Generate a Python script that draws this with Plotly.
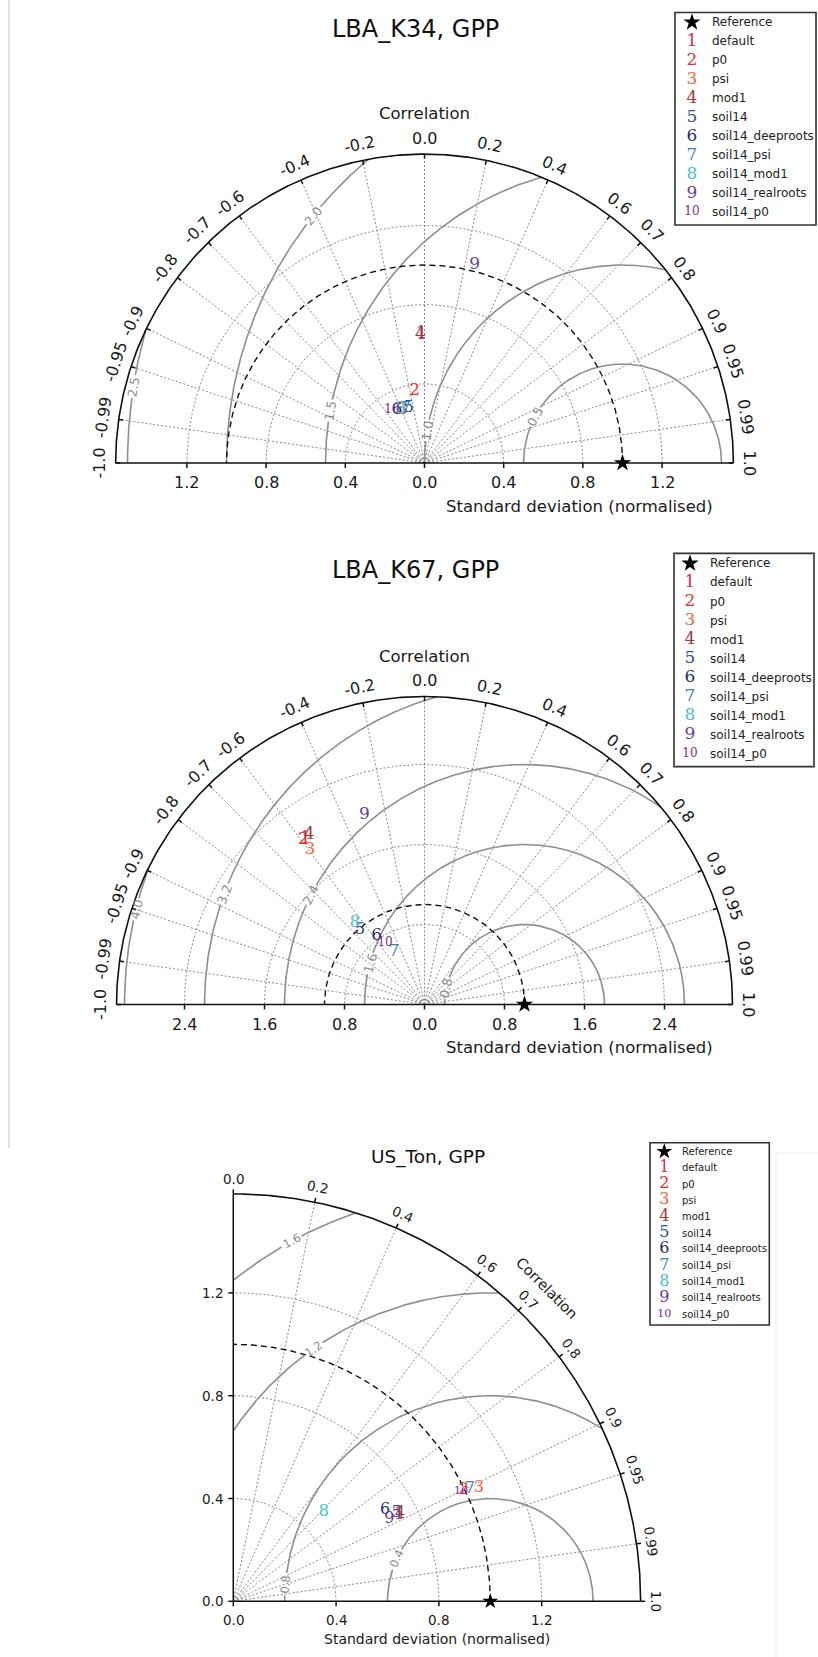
import numpy as np
import plotly.graph_objects as go

W, H = 818, 1657

# ---------------- data ----------------
model_names = ["default", "p0", "psi", "mod1", "soil14", "soil14_deeproots",
               "soil14_psi", "soil14_mod1", "soil14_realroots", "soil14_p0"]
model_marks = ["1", "2", "3", "4", "5", "6", "7", "8", "9", "10"]
model_colors = ["#d92e50", "#e5302e", "#ee6536", "#a0383d", "#2f4f9f", "#1f2b6b",
                "#3b82c4", "#4bbfcb", "#6a3f98", "#7b2e91"]

ref_std = 1.0

# LBA_K34 (normalised std, correlation)
k34_std = [0.655, 0.368, 0.291, 0.648, 0.289, 0.303, 0.289, 0.299, 1.032, 0.315]
k34_corr = [-0.023, -0.136, -0.378, -0.031, -0.277, -0.459, -0.332, -0.408, 0.246, -0.521]
# LBA_K67
k67_std = [2.043, 2.049, 1.929, 2.055, 0.991, 0.835, 0.607, 1.074, 1.993, 0.728]
k67_corr = [-0.583, -0.592, -0.594, -0.561, -0.651, -0.572, -0.502, -0.647, -0.301, -0.542]
# US_Ton
ton_std = [0.727, 0.994, 1.052, 0.732, 0.723, 0.689, 1.018, 0.494, 0.686, 0.984]
ton_corr = [0.888, 0.901, 0.908, 0.886, 0.879, 0.857, 0.904, 0.714, 0.885, 0.900]

corr_ticks_full = [-1.0, -0.99, -0.95, -0.9, -0.8, -0.7, -0.6, -0.4, -0.2, 0.0,
                   0.2, 0.4, 0.6, 0.7, 0.8, 0.9, 0.95, 0.99, 1.0]
corr_ticks_half = [0.0, 0.2, 0.4, 0.6, 0.7, 0.8, 0.9, 0.95, 0.99, 1.0]
k34_std_ticks = [-1.2, -0.8, -0.4, 0.0, 0.4, 0.8, 1.2]
k67_std_ticks = [-2.4, -1.6, -0.8, 0.0, 0.8, 1.6, 2.4]
ton_std_ticks = [0.0, 0.4, 0.8, 1.2]
k34_rms_levels = [0.5, 1.0, 1.5, 2.0, 2.5]
k67_rms_levels = [0.8, 1.6, 2.4, 3.2, 4.0]
ton_rms_levels = [0.4, 0.8, 1.2, 1.6]

# ---------------- layout parameters (pixels) ----------------
panels = [
    dict(title="LBA_K34, GPP", std=k34_std, corr=k34_corr, half=False,
         band=(0, 530), center=(424.5, 463.0), scale=198.0, smax=1.56,
         std_ticks=k34_std_ticks, rms=k34_rms_levels, rms_phi=[152, 170.5, 169.8, 141.3, 171.1],
         corr_ticks=corr_ticks_full, title_pos=(415, 28.5), title_size=24,
         corr_lab=(424.5, 114, 0), xlab=(579.5, 506), font=16, tick_off=16,
         legend_box=(675, 12.5, 816, 225), legend_y0=22.3, legend_dy=19.0,
         legend_sym_x=692, legend_txt_x=711, legend_font=12,
         mark=17, mark10=12, star=13, cfont=12.5),
    dict(title="LBA_K67, GPP", std=k67_std, corr=k67_corr, half=False,
         band=(530, 1080), center=(424.5, 1004.5), scale=100.0, smax=3.08,
         std_ticks=k67_std_ticks, rms=k67_rms_levels, rms_phi=[168, 165, 152.8, 159.8, 166.2],
         corr_ticks=corr_ticks_full, title_pos=(415, 569.6), title_size=24,
         corr_lab=(424.5, 656, 0), xlab=(579.5, 1047), font=16, tick_off=16,
         legend_box=(674, 553.4, 814, 766.6), legend_y0=563.4, legend_dy=19.06,
         legend_sym_x=690, legend_txt_x=709, legend_font=12,
         mark=17, mark10=12, star=13, cfont=12.5),
    dict(title="US_Ton, GPP", std=ton_std, corr=ton_corr, half=True,
         band=(1080, 1657), center=(233.3, 1601.3), scale=257.0, smax=1.585,
         std_ticks=ton_std_ticks, rms=ton_rms_levels, rms_phi=[155.8, 175.2, 125, 118.9],
         corr_ticks=corr_ticks_half, title_pos=(428.2, 1156.7), title_size=18.5,
         corr_lab=None, xlab=(436.8, 1639), font=13.5, tick_off=15,
         legend_box=(650, 1142.7, 769.3, 1325), legend_y0=1151.5, legend_dy=16.3,
         legend_sym_x=664.3, legend_txt_x=681, legend_font=10,
         mark=16, mark10=11, star=12, cfont=11.5),
]

fig = go.Figure()
annotations = []
shapes = []


def paper(px, py):
    return px / W, 1 - py / H


def add_text(text, px, py, size, color="#1a1a1a", angle=0, xanchor="center",
             family="DejaVu Sans"):
    x, y = paper(px, py)
    annotations.append(dict(text=text, x=x, y=y, xref="paper", yref="paper",
                            showarrow=False, textangle=angle, xanchor=xanchor,
                            yanchor="middle", borderpad=0,
                            font=dict(family=family, size=size, color=color)))


def fmt_corr(c):
    t = f"{c:.2f}"
    if t.endswith("0"):
        t = t[:-1]
    return t


for i, p in enumerate(panels):
    xa = "x" if i == 0 else f"x{i+1}"
    ya = "y" if i == 0 else f"y{i+1}"
    cx, cy = p["center"]
    s = p["scale"]
    smax = p["smax"]
    top, bot = p["band"]
    half = p["half"]
    tmax = np.pi / 2 if half else np.pi
    fig.update_layout(**{
        ("xaxis" if i == 0 else f"xaxis{i+1}"): dict(
            domain=[0, 1], range=[-cx / s, (W - cx) / s], visible=False,
            anchor=ya, fixedrange=True),
        ("yaxis" if i == 0 else f"yaxis{i+1}"): dict(
            domain=[1 - bot / H, 1 - top / H], range=[(cy - bot) / s, (cy - top) / s],
            visible=False, anchor=xa, fixedrange=True),
    })

    def px_of(x, y):
        return cx + x * s, cy - y * s

    def data_of(px, py):
        return (px - cx) / s, (cy - py) / s

    def lines(xs, ys, color, width, dash="solid"):
        fig.add_trace(go.Scatter(x=xs, y=ys, mode="lines",
                                 line=dict(color=color, width=width, dash=dash),
                                 xaxis=xa, yaxis=ya, hoverinfo="skip",
                                 showlegend=False, connectgaps=False))

    th = np.linspace(0, tmax, 600)

    # dotted grid: radial lines at correlation ticks, arcs at std ticks
    gx, gy = [], []
    for c in p["corr_ticks"]:
        if abs(c) >= 1:
            continue
        t = np.arccos(c)
        gx += [0, smax * np.cos(t), None]
        gy += [0, smax * np.sin(t), None]
    for r in sorted(set(abs(v) for v in p["std_ticks"])):
        if r <= 0:
            continue
        gx += list(r * np.cos(th)) + [None]
        gy += list(r * np.sin(th)) + [None]
    lines(gx, gy, "#8a8a8a", 1, "2px,2px")

    # RMS contours centred on the reference point
    phi = np.linspace(0, np.pi, 2001)
    cxs, cys = [], []
    for L, phL in zip(p["rms"], p["rms_phi"]):
        x = ref_std + L * np.cos(phi)
        y = L * np.sin(phi)
        ok = (np.hypot(x, y) <= smax) & (y >= -1e-9)
        if half:
            ok &= x >= -1e-9
        gap = 11.0 / (L * s)
        ok &= np.abs(phi - np.radians(phL)) > gap
        cxs += [float(v) if k else None for v, k in zip(x, ok)] + [None]
        cys += [float(v) if k else None for v, k in zip(y, ok)] + [None]
        lx, ly = px_of(ref_std + L * np.cos(np.radians(phL)), L * np.sin(np.radians(phL)))
        add_text(f"{L:.1f}", lx, ly, p["cfont"], color="#8c8c8c", angle=90 - phL)
    lines(cxs, cys, "#8f8f8f", 1.6)

    # reference std circle (dashed)
    lines(list(ref_std * np.cos(th)), list(ref_std * np.sin(th)), "#111111", 1.4, "6px,4px")

    # outer arc
    lines(list(smax * np.cos(th)), list(smax * np.sin(th)), "#111111", 1.6)

    # axis lines and std ticks
    tl = 5.0 / s
    ax_x, ax_y = [], []
    if half:
        ax_x += [0, smax, None, 0, 0, None]
        ax_y += [0, 0, None, 0, smax, None]
        for v in p["std_ticks"]:
            ax_x += [v, v, None, 0, -tl, None]
            ax_y += [0, -tl, None, v, v, None]
    else:
        ax_x += [-smax, smax, None]
        ax_y += [0, 0, None]
        for v in p["std_ticks"]:
            ax_x += [v, v, None]
            ax_y += [0, -tl, None]
    # correlation ticks on the outer arc
    for c in p["corr_ticks"]:
        t = np.arccos(c)
        r2 = smax + tl * 0.9 if half else smax - tl * 0.9
        ax_x += [smax * np.cos(t), r2 * np.cos(t), None]
        ax_y += [smax * np.sin(t), r2 * np.sin(t), None]
    lines(ax_x, ax_y, "#111111", 1.5)

    # reference star
    fig.add_trace(go.Scatter(x=[ref_std], y=[0], mode="markers",
                             marker=dict(symbol="star", size=p["star"], color="black"),
                             xaxis=xa, yaxis=ya, hoverinfo="skip", showlegend=False,
                             cliponaxis=False))

    # model points drawn as numbers
    std = np.array(p["std"])
    corr = np.array(p["corr"])
    th_m = np.arccos(corr)
    sizes = [p["mark10"] if len(m) > 1 else p["mark"] for m in model_marks]
    fig.add_trace(go.Scatter(x=list(std * np.cos(th_m)), y=list(std * np.sin(th_m)),
                             mode="text", text=model_marks, textposition="middle center",
                             textfont=dict(family="DejaVu Serif", size=sizes,
                                           color=model_colors),
                             xaxis=xa, yaxis=ya, hoverinfo="skip", showlegend=False,
                             cliponaxis=False))

    # std tick labels
    f = p["font"]
    if half:
        for v in p["std_ticks"]:
            px, py = px_of(v, 0)
            add_text(f"{v:.1f}", px, py + 19, f)
            px, py = px_of(0, v)
            add_text(f"{v:.1f}", px - 9, py, f, xanchor="right")
    else:
        for v in p["std_ticks"]:
            px, py = px_of(v, 0)
            add_text(f"{abs(v):.1f}", px, py + 20, f)

    # correlation tick labels
    rl = smax + p["tick_off"] / s
    for c in p["corr_ticks"]:
        t = np.arccos(c)
        px, py = px_of(rl * np.cos(t), rl * np.sin(t))
        add_text(fmt_corr(c), px, py, f, angle=90 - np.degrees(t))

    # titles and axis labels
    add_text(p["title"], p["title_pos"][0], p["title_pos"][1], p["title_size"], color="#111111")
    if p["corr_lab"] is not None:
        add_text("Correlation", p["corr_lab"][0], p["corr_lab"][1], f + 0.5)
    else:
        rr = 443.0 / s
        px, py = px_of(rr * np.cos(np.pi / 4), rr * np.sin(np.pi / 4))
        add_text("Correlation", px, py, f + 1, angle=45)
    add_text("Standard deviation (normalised)", p["xlab"][0], p["xlab"][1], f + 0.5)

    # legend
    x0, y0, x1, y1 = p["legend_box"]
    a, b = paper(x0, y0)
    c2, d = paper(x1, y1)
    shapes.append(dict(type="rect", xref="paper", yref="paper", x0=a, y0=d, x1=c2, y1=b,
                       line=dict(color="#333333", width=1.6),
                       fillcolor="rgba(0,0,0,0)", layer="above"))
    ly0, ldy = p["legend_y0"], p["legend_dy"]
    sx, sy = data_of(p["legend_sym_x"], ly0)
    add_text("Reference", p["legend_txt_x"], ly0, p["legend_font"], color="#222222", xanchor="left")
    lx, lyy = [], []
    for k, name in enumerate(model_names):
        yy = ly0 + ldy * (k + 1)
        dx, dy = data_of(p["legend_sym_x"], yy)
        lx.append(dx)
        lyy.append(dy)
        add_text(name, p["legend_txt_x"], yy, p["legend_font"], color="#222222", xanchor="left")
    fig.add_trace(go.Scatter(x=[sx], y=[sy], mode="markers",
                             marker=dict(symbol="star", size=p["star"], color="black"),
                             xaxis=xa, yaxis=ya, hoverinfo="skip", showlegend=False,
                             cliponaxis=False))
    fig.add_trace(go.Scatter(x=lx, y=lyy, mode="text", text=model_marks,
                             textposition="middle center",
                             textfont=dict(family="DejaVu Serif", size=sizes,
                                           color=model_colors),
                             xaxis=xa, yaxis=ya, hoverinfo="skip", showlegend=False,
                             cliponaxis=False))

# image borders of the composite
a, b = paper(9, 0)
c2, d = paper(9, 1148)
shapes.append(dict(type="line", xref="paper", yref="paper", x0=a, y0=b, x1=c2, y1=d,
                   line=dict(color="#c4c4c4", width=1)))
a, b = paper(776, 1153)
c2, d = paper(776, 1657)
shapes.append(dict(type="line", xref="paper", yref="paper", x0=a, y0=b, x1=c2, y1=d,
                   line=dict(color="#ececec", width=1)))
a, b = paper(776, 1153)
c2, d = paper(818, 1153)
shapes.append(dict(type="line", xref="paper", yref="paper", x0=a, y0=b, x1=c2, y1=d,
                   line=dict(color="#ececec", width=1)))

fig.update_layout(width=W, height=H, autosize=False,
                  margin=dict(l=0, r=0, t=0, b=0, pad=0),
                  paper_bgcolor="white", plot_bgcolor="white",
                  showlegend=False, hovermode=False,
                  annotations=annotations, shapes=shapes,
                  font=dict(family="DejaVu Sans", color="#1a1a1a"))

fig.write_html("out.html", config={"displayModeBar": False})
